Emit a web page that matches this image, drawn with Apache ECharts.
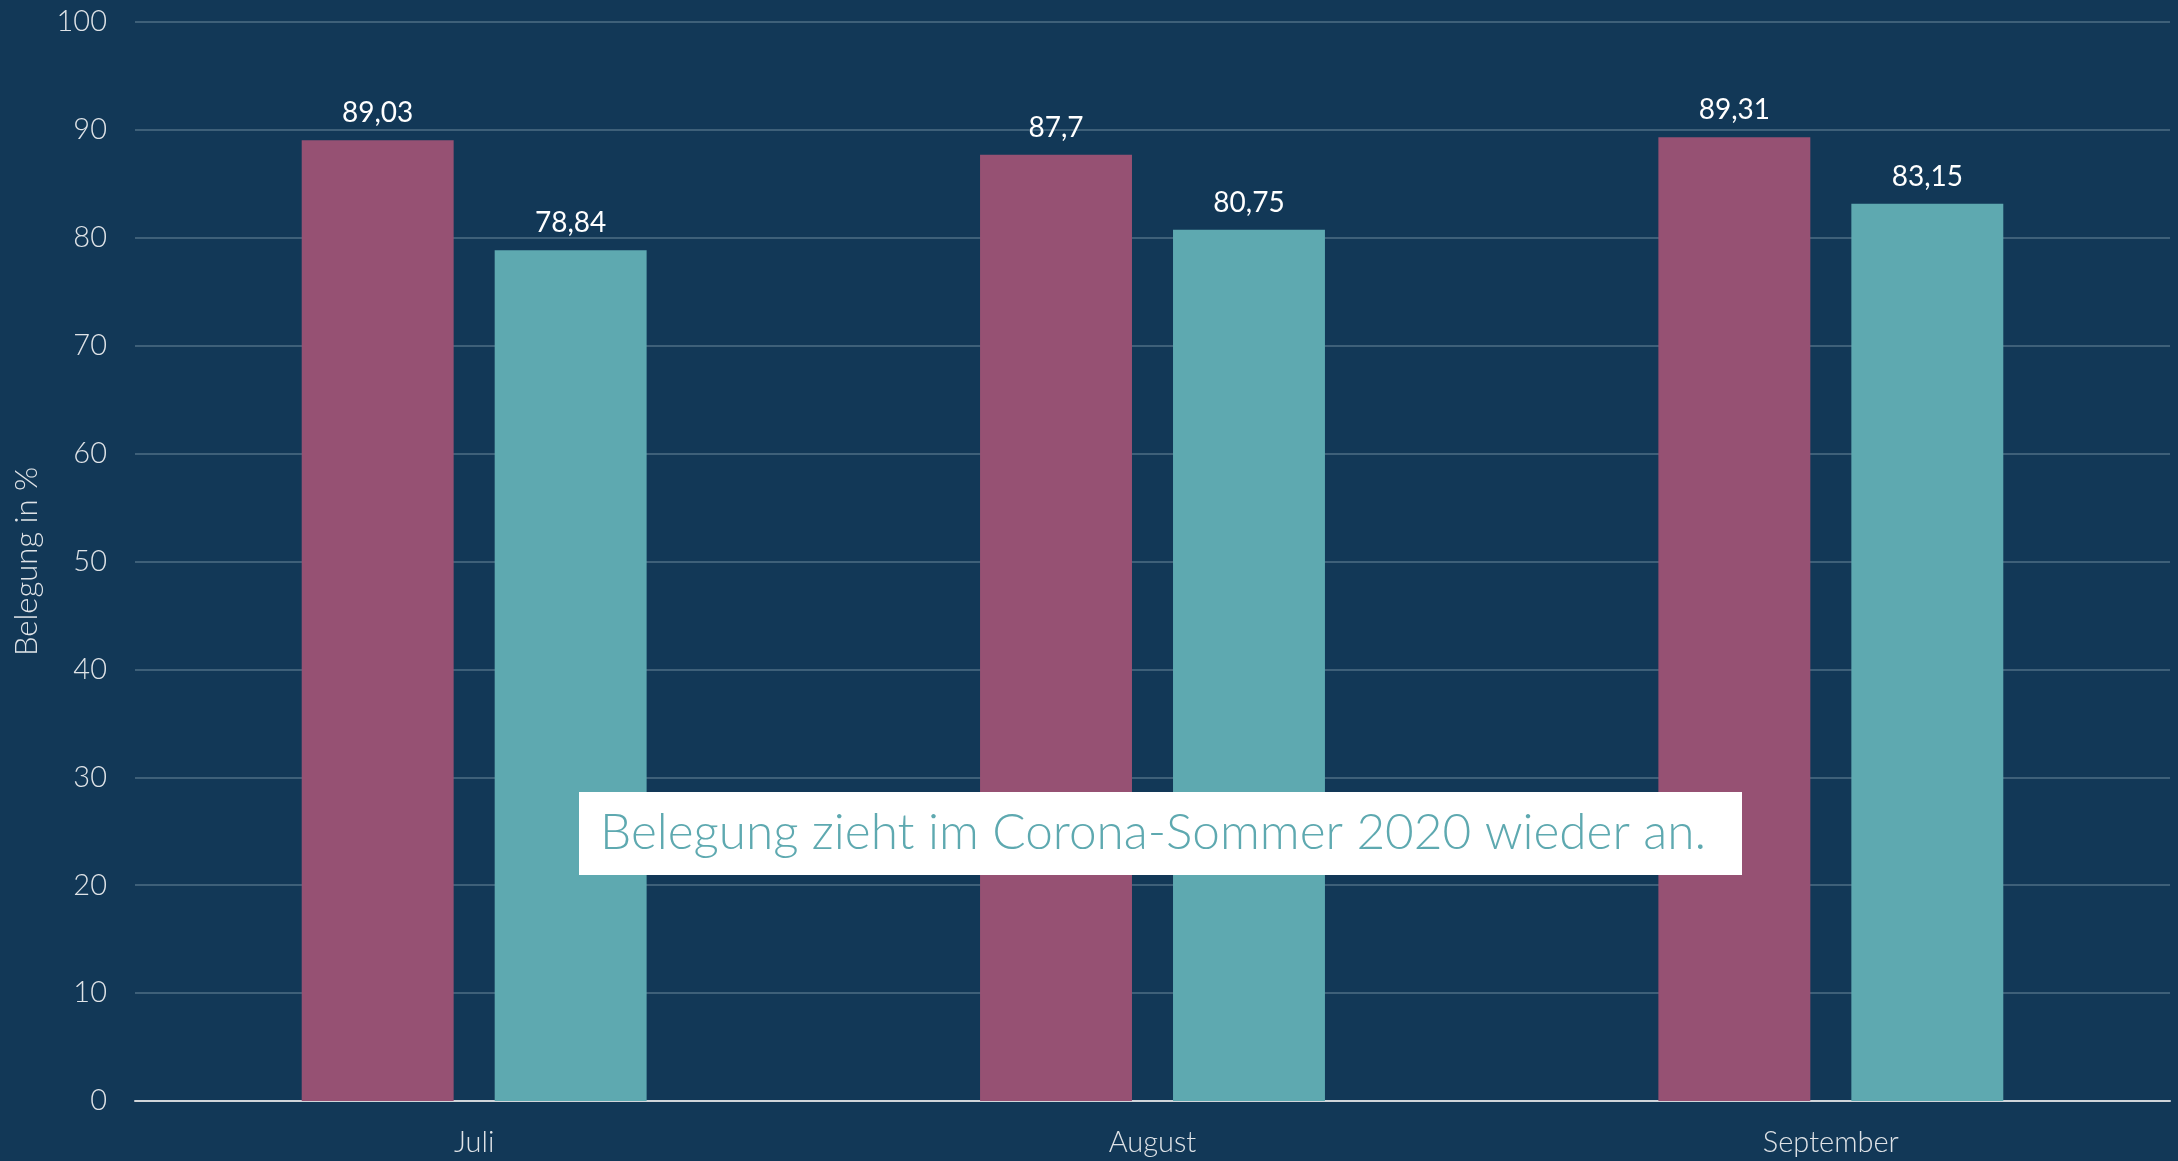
<!DOCTYPE html>
<html>
<head>
<meta charset="utf-8">
<script src="https://cdn.jsdelivr.net/npm/echarts@6/dist/echarts.min.js"></script>
<style>
    html, body { margin: 0; padding: 0; background: #123857; }
    #chart { width: 2178px; height: 1161px; }
</style>
</head>
<body>
<div id="chart"></div>
<script>
    // Monate und Belegung (Prozent)
    var months = ['Juli', 'August', 'September'];
    var serieA = [89.03, 87.7, 89.31];
    var serieB = [78.84, 80.75, 83.15];
    var yTicks = [0, 100, 10];   // min, max, interval
    var note = 'Belegung zieht im Corona-Sommer 2020 wieder an.';

    var font = 'Lato, "Open Sans", sans-serif';

    function fmt(p) {
        return String(p.value).replace('.', ',');
    }

    function barSeries(name, data, color) {
        return {
            name: name,
            type: 'bar',
            data: data,
            barWidth: '22.4%',
            barGap: '27%',
            itemStyle: { color: color },
            label: {
                show: true,
                position: 'top',
                distance: 13,
                color: '#ffffff',
                fontFamily: font,
                fontSize: 28,
                formatter: fmt
            }
        };
    }

    var chart = echarts.init(document.getElementById('chart'));
    chart.setOption({
        backgroundColor: '#123857',
        animation: false,
        grid: { left: 135, right: 8, top: 22, bottom: 60 },
        xAxis: {
            type: 'category',
            data: months,
            axisTick: { show: false },
            axisLine: { lineStyle: { color: '#d0d5da', width: 2 } },
            axisLabel: { color: '#dfe3e7', fontFamily: font, fontWeight: 300, fontSize: 29, margin: 27 }
        },
        yAxis: {
            type: 'value',
            min: yTicks[0],
            max: yTicks[1],
            interval: yTicks[2],
            name: 'Belegung in %',
            nameLocation: 'middle',
            nameGap: 93,
            nameTextStyle: { color: '#dfe3e7', fontFamily: font, fontWeight: 300, fontSize: 31 },
            axisLine: { show: false },
            axisTick: { show: false },
            axisLabel: { color: '#dfe3e7', fontFamily: font, fontWeight: 300, fontSize: 29, margin: 28 },
            splitLine: { lineStyle: { color: '#3e6079', width: 2 } }
        },
        series: [
            barSeries('A', serieA, '#965173'),
            barSeries('B', serieB, '#5ea9b0')
        ],
        graphic: [{
            type: 'rect',
            left: 579,
            top: 792,
            z: 100,
            zlevel: 1,
            shape: { width: 1163, height: 83 },
            style: { fill: '#ffffff' }
        }, {
            type: 'text',
            left: 600,
            top: 808,
            z: 101,
            zlevel: 1,
            style: {
                text: note,
                fill: '#5ea9b0',
                font: '300 49.5px ' + font
            }
        }]
    });
</script>
</body>
</html>
